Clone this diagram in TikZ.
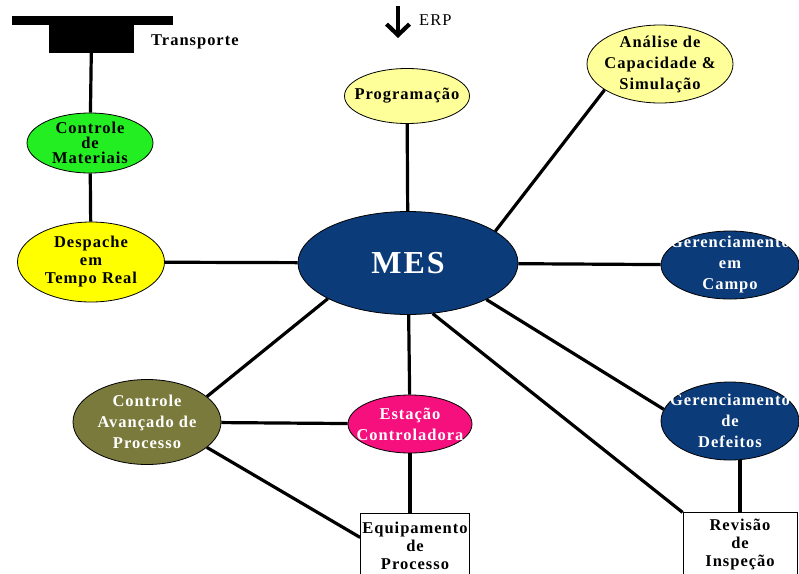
\documentclass[tikz,border=0pt]{standalone}
\usepackage{fontspec}
\setmainfont{Liberation Serif}[LetterSpace=6]
\usetikzlibrary{arrows.meta,positioning,shapes.geometric}
\definecolor{mesBlue}{HTML}{0B3B78}
\definecolor{rtYellow}{HTML}{FFFF00}
\definecolor{paleYellow}{HTML}{FFFF99}
\definecolor{matGreen}{HTML}{22EE22}
\definecolor{stMagenta}{HTML}{F5107E}
\definecolor{apcOlive}{HTML}{7A7A3C}

\begin{document}
\begin{tikzpicture}[x=1pt, y=-1pt,
  bubble/.style={ellipse, draw=black, line width=0.8pt, inner sep=0pt},
  txt/.style={font=\bfseries\fontsize{16.5}{21}\selectfont, align=center, inner sep=0pt},
  box/.style={draw=black, fill=white, line width=0.8pt, inner sep=0pt, minimum height=64pt, align=center, font=\bfseries\fontsize{16.5}{18}\selectfont},
  link/.style={line width=3.2pt},
  erparrow/.style={line width=4.2pt, -{Straight Barb[length=11pt, width=23pt]}}
]
  \clip (0,0) rectangle (799,573);
  \fill[white] (0,0) rectangle (799,573);

  % centre
  \node[bubble, fill=mesBlue, minimum width=220pt, minimum height=103pt] (mes) at (408,263) {};
  \node[txt, white, font=\bfseries\fontsize{32}{34}\selectfont] (mestxt) at (mes) {MES};

  % transport and material flow
  \node[fill=black, inner sep=0pt, minimum width=161pt, minimum height=9pt] (transbar) at (92.5,20.5) {};
  \node[fill=black, inner sep=0pt, minimum width=85pt, minimum height=28pt] (trans) at (91.5,39) {};
  \node[txt, anchor=west] (transtxt) at (151,42) {Transporte};
  \node[bubble, fill=matGreen, minimum width=126pt, minimum height=60pt] (materiais) at (90,143) {};
  \node[txt, font=\bfseries\fontsize{16.5}{15}\selectfont] (materiaistxt) at (materiais) {Controle\\de\\Materiais};
  \node[bubble, fill=rtYellow, minimum width=147pt, minimum height=80pt] (despache) at (91,262) {};
  \node[txt, font=\bfseries\fontsize{16.5}{18}\selectfont] (despachetxt) at (despache) {Despache\\em\\Tempo Real};

  % planning side
  \coordinate (erptail) at (398,6);
  \coordinate (erphead) at (398,38);
  \node[font=\fontsize{16.5}{18}\selectfont, anchor=west, inner sep=0pt] (erp) at (419,20) {ERP};
  \node[bubble, fill=paleYellow, minimum width=125pt, minimum height=55pt] (prog) at (407,96) {};
  \node[txt] (progtxt) at (prog) {Programação};
  \node[bubble, fill=paleYellow, minimum width=146pt, minimum height=78pt] (ana) at (660,64) {};
  \node[txt] (anatxt) at (ana) {Análise de\\Capacidade \&\\Simulação};

  % right side
  \node[bubble, fill=mesBlue, minimum width=138pt, minimum height=68pt] (campo) at (730,265) {};
  \node[txt, white] (campotxt) at (campo) {Gerenciamento\\em\\Campo};
  \node[bubble, fill=mesBlue, minimum width=138pt, minimum height=78pt] (defeitos) at (730,421) {};
  \node[txt, white] (defeitostxt) at (defeitos) {Gerenciamento\\de\\Defeitos};
  \node[box, minimum width=114pt, below=52pt of defeitos, xshift=10pt] (revisao) {Revisão\\de\\Inspeção};

  % lower left
  \node[bubble, fill=apcOlive, minimum width=148pt, minimum height=85pt] (avancado) at (147,422) {};
  \node[txt, white] (avancadotxt) at (avancado) {Controle\\Avançado de\\Processo};
  \node[bubble, fill=stMagenta, minimum width=124pt, minimum height=58pt] (estacao) at (410,424) {};
  \node[txt, white] (estacaotxt) at (estacao) {Estação\\Controladora};
  \node[box, minimum width=109pt, below=60pt of estacao, xshift=5pt] (equip) {Equipamento\\de\\Processo};

  \draw[erparrow] (erptail) -- (erphead);
  \draw[link] (trans) -- (materiais);
  \draw[link] (materiais) -- (despache);
  \draw[link] (despache) -- (mes);
  \draw[link] (prog) -- (mes);
  \draw[link] (mes.20) -- (ana.205);
  \draw[link] (mes) -- (campo);
  \draw[link] (mes.335) -- (defeitos.170);
  \draw[link] (revisao.north) -- (revisao.north |- defeitos.south);
  \draw[link] (mes.296) -- (revisao.north west);
  \draw[link] (mes) -- (estacao);
  \draw[link] (estacao) -- (estacao |- equip.north);
  \draw[link] (mes.204) -- (avancado.23);
  \draw[link] (avancado) -- (estacao);
  \draw[link] (avancado.337) -- ([yshift=-24pt]equip.north west);
\end{tikzpicture}
\end{document}
